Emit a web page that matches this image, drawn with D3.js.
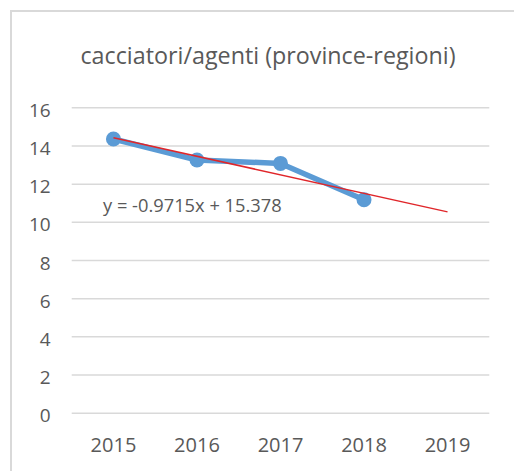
<!DOCTYPE html>
<html><head><meta charset="utf-8">
<script src="https://cdn.jsdelivr.net/npm/d3@7"></script>
<style>body{margin:0;background:#fff}svg{display:block}</style>
</head><body>
<svg id="c" width="514" height="471"></svg>
<script>
const title = "cacciatori/agenti (province-regioni)";
const years = ["2015","2016","2017","2018","2019"];
const values = [14.34, 13.24, 13.06, 11.16];
const yTicks = [0,2,4,6,8,10,12,14,16];
const slope = -0.9715, intercept = 15.378;
const equation = "y = -0.9715x + 15.378";

const svg = d3.select("#c");
const font = "'Open Sans', sans-serif";
const txt = "#595959";
const pL = 71.7, pR = 489.3, pT = 107.3, pB = 412.7;

// frame
svg.append("path").attr("d","M11,471 V11 H514").attr("fill","none").attr("stroke","#d9d9d9").attr("stroke-width",2);

svg.append("text").attr("x",268).attr("y",64).attr("text-anchor","middle")
  .attr("font-family",font).attr("font-size",23.3).attr("fill",txt).text(title);

const x = d3.scaleBand().domain(years).range([pL,pR]);
const y = d3.scaleLinear().domain([0,16]).range([pB,pT]);

const yAxis = svg.append("g").attr("transform",`translate(${pL},0)`)
  .call(d3.axisLeft(y).tickValues(yTicks).tickSize(-(pR-pL)).tickPadding(21));
yAxis.select(".domain").remove();
yAxis.selectAll("line").attr("stroke","#d9d9d9").attr("stroke-width",1.5);
yAxis.selectAll("text").attr("font-family",font).attr("font-size",19).attr("fill",txt).attr("dy","0.48em");

const xAxis = svg.append("g").attr("transform",`translate(0,${pB})`)
  .call(d3.axisBottom(x).tickSize(0).tickPadding(25));
xAxis.select(".domain").remove();
xAxis.selectAll("text").attr("font-family",font).attr("font-size",20).attr("fill",txt);

const cx = d => x(d) + x.bandwidth()/2;
const line = d3.line().x((d,i)=>cx(years[i])).y(d=>y(d));
svg.append("path").datum(values).attr("d",line).attr("fill","none")
  .attr("stroke","#5b9bd5").attr("stroke-width",5.5).attr("stroke-linejoin","round");
svg.selectAll("circle").data(values).enter().append("circle")
  .attr("cx",(d,i)=>cx(years[i])).attr("cy",d=>y(d)).attr("r",7.5).attr("fill","#5b9bd5");

// trend line
const tr = [1,5].map(k=>({k, v: intercept + slope*k}));
svg.append("path").datum(tr)
  .attr("d", d3.line().x(d=>cx(years[d.k-1])).y(d=>y(d.v)))
  .attr("stroke","#e0262a").attr("stroke-width",1.5).attr("fill","none");

svg.append("text").attr("x",103).attr("y",211.5).attr("font-family",font)
  .attr("font-size",18.3).attr("fill",txt).text(equation);
</script>
</body></html>
